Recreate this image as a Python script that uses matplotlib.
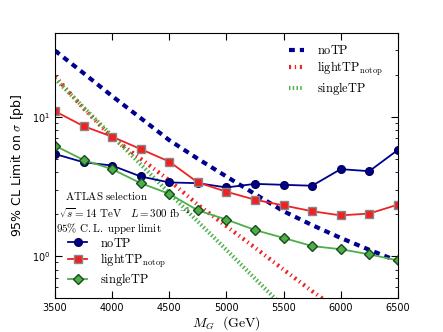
import matplotlib
matplotlib.use("Agg")
import matplotlib.pyplot as plt

plt.rcParams['mathtext.fontset'] = 'cm'

# masses (GeV)
mass = [3500, 3750, 4000, 4250, 4500, 4750, 5000, 5250, 5500, 5750, 6000, 6250, 6500]

# 95% CL upper limits from the ATLAS selection [pb]
lim_notp = [5.41, 4.72, 4.47, 3.73, 3.38, 3.34, 3.11, 3.30, 3.25, 3.20, 4.21, 4.07, 5.78]
lim_light = [10.97, 8.58, 7.20, 5.87, 4.77, 3.38, 2.90, 2.54, 2.31, 2.10, 1.96, 2.02, 2.34]
lim_single = [6.21, 4.90, 4.21, 3.34, 2.80, 2.13, 1.83, 1.54, 1.35, 1.18, 1.12, 1.03, 0.93]

# theory cross sections [pb]
xs_notp = [29.9, 20.6, 14.1, 9.8, 6.8, 5.0, 3.73, 2.79, 2.10, 1.67, 1.35, 1.11, 0.92]
xs_light = [19.6, 11.5, 7.1, 5.0, 3.5, 2.34, 1.64, 1.15, 0.80, 0.56, 0.40, 0.28, 0.20]
xs_single = [18.8, 11.7, 7.3, 4.56, 2.84, 1.77, 1.11, 0.69, 0.43, 0.27, 0.17, 0.105, 0.066]

labels = [r"$\mathrm{noTP}$", r"$\mathrm{lightTP_{notop}}$", r"$\mathrm{singleTP}$"]

c_blue = "#000090"
c_red = "#ee2222"
c_green = "#4daf4a"

fig = plt.figure(figsize=(4.43, 3.32), dpi=100)
ax = fig.add_axes([0.124, 0.1024, 0.774, 0.7982])

# theory lines
t1, = ax.plot(mass, xs_notp, color=c_blue, lw=3, ls=(0, (1.4, 1.2)))
t2, = ax.plot(mass, xs_light, color=c_red, lw=3, ls=(0, (0.5, 0.9, 0.3, 0.9)))
t3, = ax.plot(mass, xs_single, color=c_green, lw=3, ls=(0, (0.35, 0.55)))

# limits
l1, = ax.plot(mass, lim_notp, color=c_blue, lw=1.3, marker="o", ms=5.5,
              mfc=c_blue, mec="#000050")
l2, = ax.plot(mass, lim_light, color=c_red, lw=1.3, marker="s", ms=5.5,
              mfc=c_red, mec="#888888")
l3, = ax.plot(mass, lim_single, color=c_green, lw=1.3, marker="D", ms=5.5,
              mfc=c_green, mec="#1a4a1a")

ax.set_yscale("log")
ax.set_xlim(3500, 6500)
ax.set_ylim(0.5, 40)
ax.set_xticks([3500, 4000, 4500, 5000, 5500, 6000, 6500])
ax.tick_params(which="both", direction="in", top=True, right=True, labelsize=7)
ax.tick_params(which="major", length=5)
ax.tick_params(which="minor", length=2.5)

ax.set_xlabel(r"$M_G\ \ \mathrm{(GeV)}$", fontsize=10, labelpad=1)
ax.set_ylabel(r"95% CL Limit on $\sigma$ [pb]", fontsize=9)

leg1 = ax.legend([t1, t2, t3], labels,
                 loc="upper right", frameon=False, fontsize=8.9, handlelength=1.2,
                 handletextpad=1.1, bbox_to_anchor=(0.99, 1.0), labelspacing=0.2)
ax.add_artist(leg1)

ax.legend([l1, l2, l3], labels,
          loc="lower left", frameon=False, fontsize=8.9, handlelength=1.55,
          handletextpad=1.0, bbox_to_anchor=(0.006, -0.006), labelspacing=0.15)

ax.text(0.029, 0.368, r"$\mathrm{ATLAS\ selection}$", transform=ax.transAxes, fontsize=7.9)
ax.text(0.012, 0.305, r"$\sqrt{s}=14\ \mathrm{TeV}\ \ \ L=300\ \mathrm{fb}^{-1}$",
        transform=ax.transAxes, fontsize=7.9)
ax.text(0.003, 0.248, r"$\mathrm{95\%\ C.L.\ upper\ limit}$", transform=ax.transAxes, fontsize=7.9)

fig.savefig("out.png", dpi=100)
